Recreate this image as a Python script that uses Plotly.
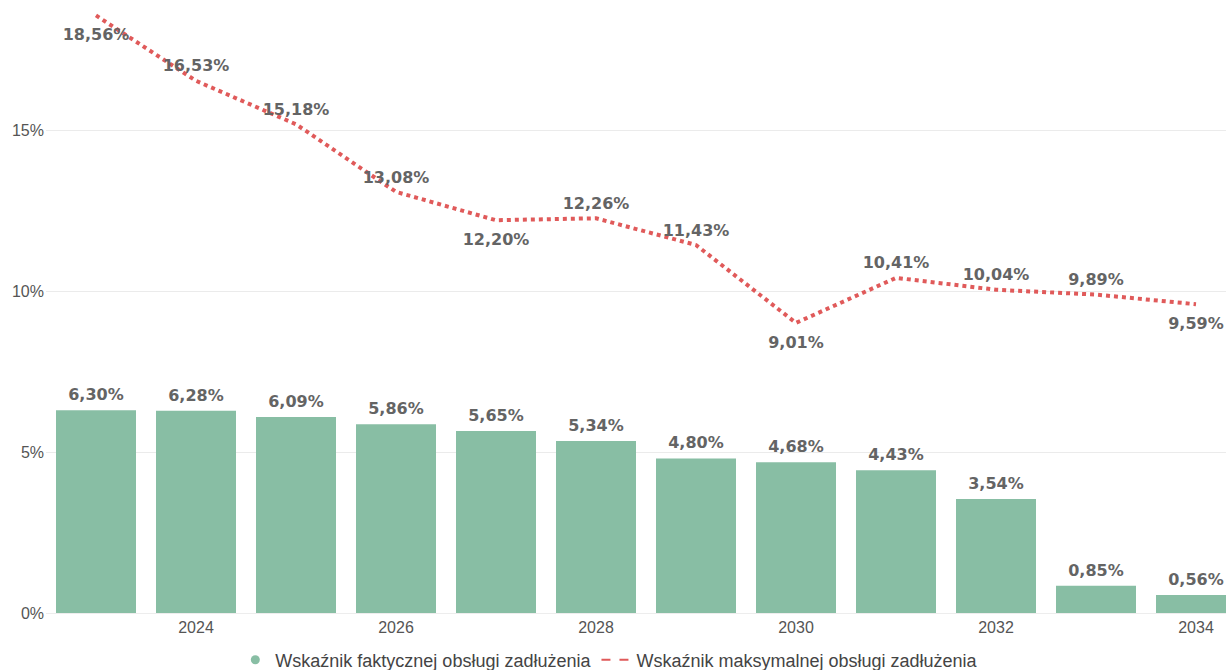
import plotly.graph_objects as go

years = list(range(2023, 2035))
actual = [6.30, 6.28, 6.09, 5.86, 5.65, 5.34, 4.80, 4.68, 4.43, 3.54, 0.85, 0.56]
maximum = [18.56, 16.53, 15.18, 13.08, 12.20, 12.26, 11.43, 9.01, 10.41, 10.04, 9.89, 9.59]
max_label_pos = ["bottom center", "top center", "top center", "top center", "bottom center",
                 "top center", "top center", "bottom center", "top center", "top center",
                 "top center", "bottom center"]
name_actual = "Wskaźnik faktycznej obsługi zadłużenia"
name_max = "Wskaźnik maksymalnej obsługi zadłużenia"
x_ticks = [2024, 2026, 2028, 2030, 2032, 2034]
y_ticks = [0, 5, 10, 15]


def fmt(v):
    return f"{v:.2f}%".replace(".", ",")


BAR = "#88BEA4"
LINE = "#E05A5A"
LBL = "#646464"
FONT = "Liberation Sans, Arial, sans-serif"
LBL_FONT = dict(family="DejaVu Sans", size=16, color=LBL, weight="bold")

# invisible marker sizes only used to offset the labels from the line
max_marker_size = [19 if p.startswith("bottom") else 7 for p in max_label_pos]
HIDDEN = "rgba(0,0,0,0)"

fig = go.Figure()
fig.add_trace(go.Bar(
    x=years, y=actual, width=0.8, marker=dict(color=BAR, line=dict(width=0)),
    showlegend=False, hoverinfo="skip",
))
fig.add_trace(go.Scatter(
    x=years, y=actual, mode="markers+text",
    marker=dict(size=8, color=HIDDEN, line=dict(width=0, color=HIDDEN)),
    text=[fmt(v) for v in actual], textposition="top center", cliponaxis=False,
    textfont=LBL_FONT, showlegend=False, hoverinfo="skip",
))
fig.add_trace(go.Scatter(
    x=years, y=maximum, mode="lines+markers+text",
    line=dict(color=LINE, width=4, dash="dot"),
    marker=dict(size=max_marker_size, color=HIDDEN, line=dict(width=0, color=HIDDEN)),
    text=[fmt(v) for v in maximum], textposition=max_label_pos, cliponaxis=False,
    textfont=LBL_FONT, showlegend=False, hoverinfo="skip",
))
# legend entries
fig.add_trace(go.Scatter(x=[None], y=[None], mode="markers", name=name_actual,
                         marker=dict(symbol="circle", size=9, color=BAR)))
fig.add_trace(go.Scatter(x=[None], y=[None], mode="lines", name=name_max,
                         line=dict(color=LINE, width=2, dash="dash")))

fig.update_layout(
    width=1226, height=670,
    margin=dict(l=46, r=0, t=0, b=57, autoexpand=False),
    paper_bgcolor="white", plot_bgcolor="white",
    font=dict(family=FONT, color="#555"),
    legend=dict(orientation="h", xref="container", yref="paper", x=0.497, y=-0.0767,
                xanchor="center", yanchor="middle", font=dict(size=18, color="#444"),
                itemwidth=30, tracegroupgap=0),
    xaxis=dict(range=[2022.5, 2034.3], tickvals=x_ticks, ticktext=[str(t) for t in x_ticks],
               showgrid=False, zeroline=False, showline=True, linecolor="#EDEDED",
               linewidth=1, tickfont=dict(size=16, color="#555"), ticks="",
               automargin=False),
    yaxis=dict(range=[0, 19.04], tickvals=y_ticks, ticktext=[f"{t}%" for t in y_ticks],
               showgrid=True, gridcolor="#EBEBEB", zeroline=False,
               tickfont=dict(size=16, color="#555"), ticks="", ticklabelstandoff=1,
               automargin=False),
)

fig.write_html("out.html", config={"displayModeBar": False},
               post_script="document.body.style.margin='0';document.body.style.overflow='hidden';")
